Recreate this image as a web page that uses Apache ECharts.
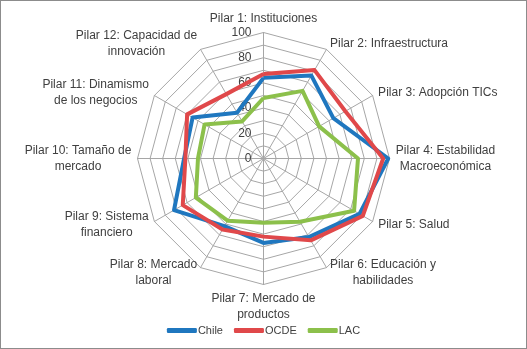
<!DOCTYPE html>
<html>
<head>
<meta charset="utf-8">
<script src="https://cdn.jsdelivr.net/npm/echarts@6/dist/echarts.min.js"></script>
<style>
  html, body { margin: 0; padding: 0; background: #ffffff; }
  #frame { width: 525px; height: 347px; border: 1px solid #8c8c8c; }
  #chart { width: 525px; height: 347px; }
</style>
</head>
<body>
<div id="frame"><div id="chart"></div></div>
<script>
// Pillar names (clockwise from the top)
const pillars = [
  'Pilar 1: Instituciones',
  'Pilar 2: Infraestructura',
  'Pilar 3: Adopción TICs',
  'Pilar 4: Estabilidad\nMacroeconómica',
  'Pilar 5: Salud',
  'Pilar 6: Educación y\nhabilidades',
  'Pilar 7: Mercado de\nproductos',
  'Pilar 8: Mercado\nlaboral',
  'Pilar 9: Sistema\nfinanciero',
  'Pilar 10: Tamaño de\nmercado',
  'Pilar 11: Dinamismo\nde los negocios',
  'Pilar 12: Capacidad de\ninnovación'
];

// Scores per pillar (0-100)
const chile = [64, 76, 64, 99, 88, 72, 67, 62, 82, 63, 65, 42];
const ocde  = [67, 81, 75, 95, 91, 75, 62, 65, 74, 62, 70, 59];
const lac   = [48, 62, 51, 75, 83, 58, 51, 57, 62, 52, 54, 34];

const seriesNames  = ['Chile', 'OCDE', 'LAC'];
const seriesColors = ['#1f77bf', '#e0484a', '#8cc04b'];

// Radial scale
const scaleMin = 0;
const scaleMax = 100;
const ringStep = 10;
const labelStep = 20;

const FONT = 'Liberation Sans';
const TEXT_COLOR = '#404040';
const NAME_SIZE = 12;

// ECharts lays radar indicators out counter-clockwise; reorder so the
// pillars run clockwise starting at the top.
const order = [0].concat(pillars.map((_, i) => i).slice(1).reverse());
const reorder = arr => order.map(i => arr[i]);

// Multi-line pillar names: every line sits in a box as wide as the
// longest line so the lines are centred on each other.
const measureCtx = document.createElement('canvas').getContext('2d');
measureCtx.font = NAME_SIZE + 'px "' + FONT + '"';
const nameRich = {};
const indicators = reorder(pillars).map((name, k) => {
  const lines = name.split('\n');
  const w = Math.ceil(Math.max(...lines.map(l => measureCtx.measureText(l).width)));
  const key = 'n' + k;
  nameRich[key] = {
    width: w, align: 'center',
    fontSize: NAME_SIZE, fontFamily: FONT, color: TEXT_COLOR, lineHeight: 16
  };
  return {
    name: lines.map(l => '{' + key + '|' + l + '}').join('\n'),
    min: scaleMin,
    max: scaleMax,
    axisLabel: { show: k === 0 }
  };
});

const chart = echarts.init(document.getElementById('chart'));
chart.setOption({
  animation: false,
  color: seriesColors,
  textStyle: { fontFamily: FONT },
  legend: {
    data: seriesNames,
    top: 319,
    left: 'center',
    icon: 'roundRect',
    itemWidth: 30,
    itemHeight: 5,
    itemGap: 11,
    textStyle: {
      color: TEXT_COLOR, fontSize: 11, fontFamily: FONT,
      padding: [0, 0, 0, -4]
    }
  },
  radar: {
    center: [262.5, 157.5],
    radius: 126,
    startAngle: 90,
    shape: 'polygon',
    splitNumber: (scaleMax - scaleMin) / ringStep,
    nameGap: 6,
    axisName: {
      color: TEXT_COLOR,
      fontSize: NAME_SIZE,
      fontFamily: FONT,
      lineHeight: 16,
      rich: nameRich
    },
    axisLine: { lineStyle: { color: '#a6a6a6', width: 1 } },
    splitLine: { lineStyle: { color: '#a6a6a6', width: 1 } },
    splitArea: { show: false },
    axisTick: { show: false },
    axisLabel: {
      show: false,
      color: TEXT_COLOR,
      fontSize: 12,
      fontFamily: FONT,
      align: 'right',
      margin: 12,
      formatter: v => (v % labelStep === 0 ? String(v) : '')
    },
    indicator: indicators
  },
  series: [{
    type: 'radar',
    symbol: 'none',
    lineStyle: { width: 4 },
    data: [
      { name: seriesNames[0], value: reorder(chile) },
      { name: seriesNames[1], value: reorder(ocde) },
      { name: seriesNames[2], value: reorder(lac) }
    ]
  }]
});
</script>
</body>
</html>
